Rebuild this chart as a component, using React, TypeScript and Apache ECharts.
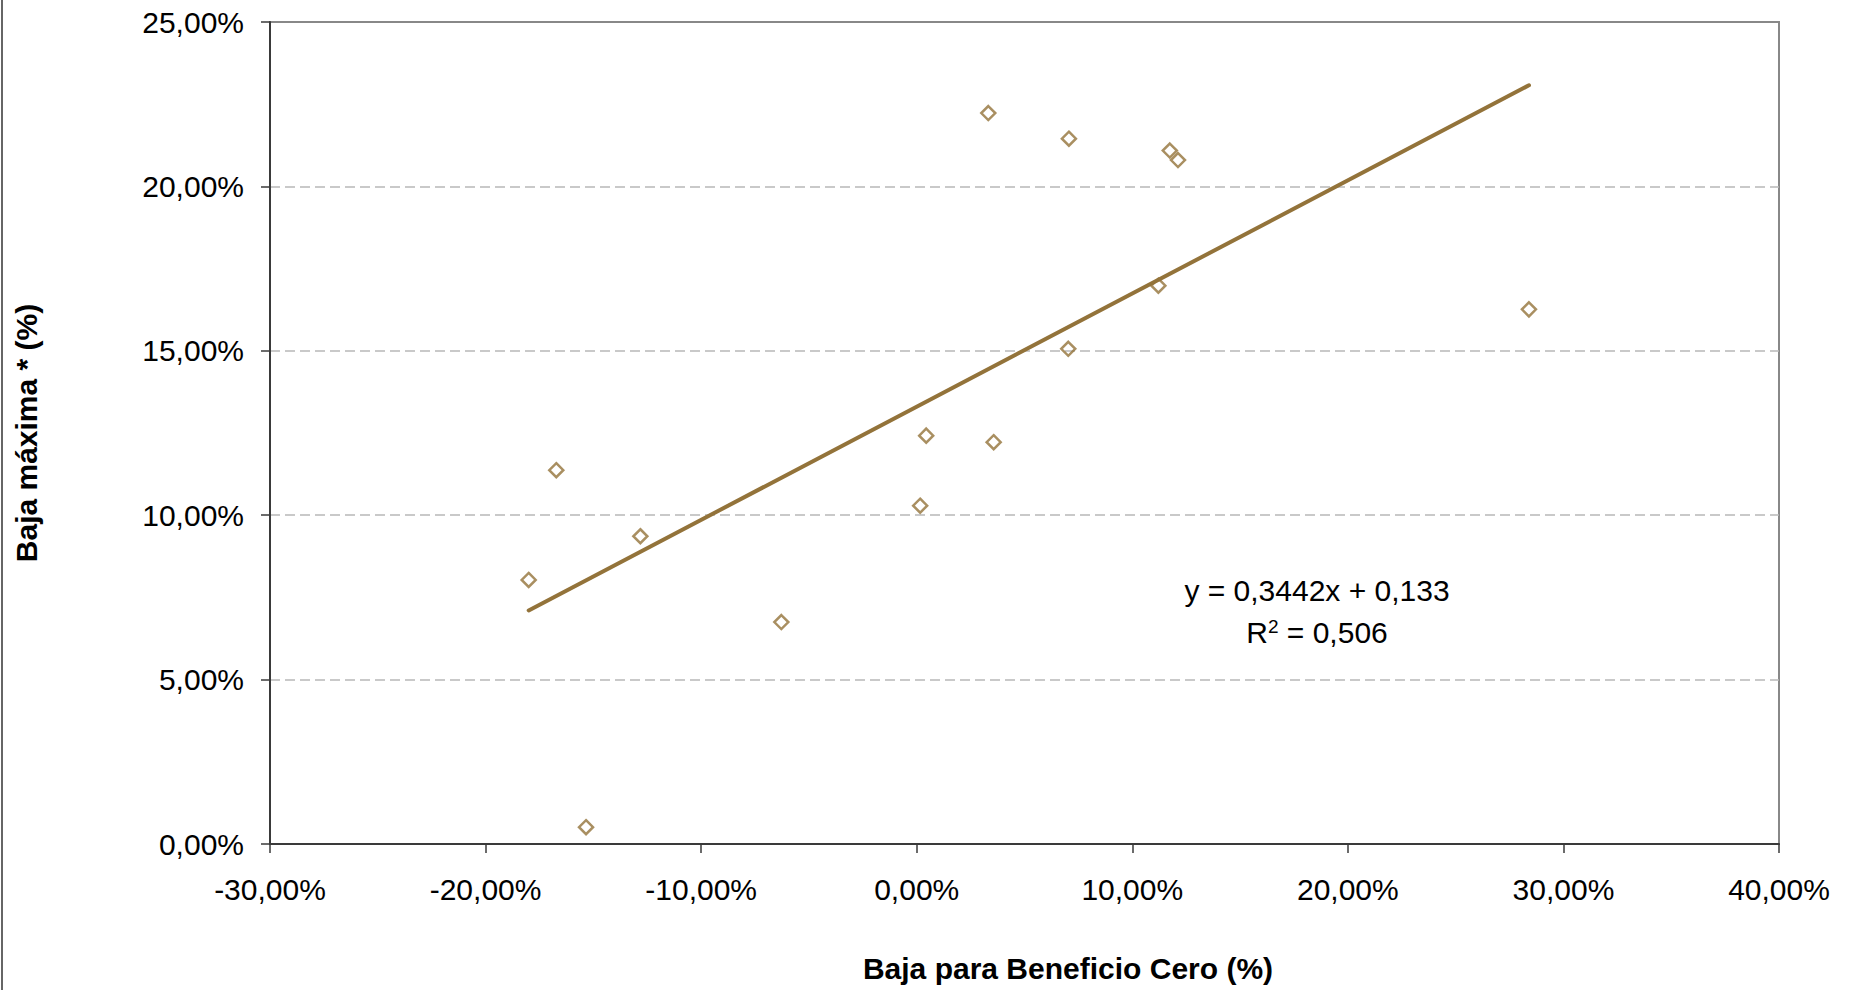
import React, { useEffect, useRef } from "react";
import * as echarts from "echarts";

// Baja para Beneficio Cero (%)
const xValues = [-18.0, -16.72, -15.34, -12.82, -6.28, 0.16, 0.44, 3.32, 3.57, 7.06, 7.03, 11.21, 11.74, 12.12, 28.4];
// Baja máxima * (%)
const yValues = [8.03, 11.37, 0.51, 9.36, 6.75, 10.29, 12.42, 22.23, 12.22, 21.45, 15.06, 16.98, 21.09, 20.8, 16.26];

const xTicks = { min: -30, max: 40, interval: 10 };
const yTicks = { min: 0, max: 25, interval: 5 };

const trendSlope = 0.3442;
const trendIntercept = 0.133;
const rSquared = "0,506";
const equationText = "y = 0,3442x + 0,133";

const xTitle = "Baja para Beneficio Cero (%)";
const yTitle = "Baja máxima * (%)";

const BROWN = "#93733A";
const FONT = "'Liberation Sans', Arial, sans-serif";

const fmt = (v: number) => v.toFixed(2).replace(".", ",") + "%";

export default function App() {
  const ref = useRef<HTMLDivElement>(null);
  useEffect(() => {
    if (!ref.current) return;
    const chart = echarts.init(ref.current, undefined, { renderer: "svg" });
    const points = xValues.map((x, i) => [x, yValues[i]]);
    const xMinData = Math.min(...xValues);
    const xMaxData = Math.max(...xValues);
    const trend = [xMinData, xMaxData].map((x) => [x, (trendSlope * (x / 100) + trendIntercept) * 100]);

    chart.setOption({
      animation: false,
      backgroundColor: "#ffffff",
      textStyle: { fontFamily: FONT },
      grid: {
        left: 270,
        top: 22,
        right: 70,
        bottom: 146,
        containLabel: false,
        outerBoundsMode: "none",
        show: true,
        borderColor: "#888888",
        borderWidth: 2,
        backgroundColor: "#ffffff",
      },
      xAxis: {
        type: "value",
        min: xTicks.min,
        max: xTicks.max,
        interval: xTicks.interval,
        axisLine: { show: true, onZero: false, lineStyle: { color: "#3a3a3a", width: 2 } },
        axisTick: { show: true, length: 9, lineStyle: { color: "#3a3a3a", width: 1.5 } },
        axisLabel: { formatter: fmt, fontSize: 30, color: "#000", fontFamily: FONT, margin: 30 },
        splitLine: { show: false },
      },
      yAxis: {
        type: "value",
        min: yTicks.min,
        max: yTicks.max,
        interval: yTicks.interval,
        axisLine: { show: true, onZero: false, lineStyle: { color: "#3a3a3a", width: 2 } },
        axisTick: { show: true, length: 9, lineStyle: { color: "#3a3a3a", width: 1.5 } },
        axisLabel: { formatter: fmt, fontSize: 30, color: "#000", fontFamily: FONT, margin: 26 },
        splitLine: {
          show: true,
          showMaxLine: false,
          showMinLine: false,
          lineStyle: { color: "#b8b8b8", width: 1.5, type: [10, 5] },
        },
      },
      series: [
        {
          type: "scatter",
          data: points,
          symbol: "diamond",
          symbolSize: 14,
          itemStyle: { color: "rgba(0,0,0,0)", borderColor: BROWN, borderWidth: 2.5 },
          z: 2,
        },
        {
          type: "line",
          data: trend,
          showSymbol: false,
          symbol: "none",
          lineStyle: { color: BROWN, width: 4, cap: "round" },
          z: 3,
        },
      ],
      graphic: [
        {
          type: "line",
          shape: { x1: 2, y1: 0, x2: 2, y2: 990 },
          style: { stroke: "#333", lineWidth: 1.5 },
        },
        {
          type: "text",
          x: 1068,
          y: 968,
          style: {
            text: xTitle,
            font: `bold 30px ${FONT}`,
            fill: "#000",
            textAlign: "center",
            textVerticalAlign: "middle",
          },
        },
        {
          type: "text",
          x: 26,
          y: 433,
          rotation: Math.PI / 2,
          style: {
            text: yTitle,
            font: `bold 30px ${FONT}`,
            fill: "#000",
            textAlign: "center",
            textVerticalAlign: "middle",
          },
        },
        {
          type: "text",
          x: 1317,
          y: 590,
          style: {
            text: equationText,
            font: `30px ${FONT}`,
            fill: "#000",
            textAlign: "center",
            textVerticalAlign: "middle",
          },
        },
        {
          type: "text",
          x: 1317,
          y: 632,
          style: {
            text: "{r|R}{s|2}{r| = " + rSquared + "}",
            textAlign: "center",
            textVerticalAlign: "middle",
            rich: {
              r: { fontSize: 30, fontFamily: FONT, fill: "#000", color: "#000", verticalAlign: "bottom" },
              s: { fontSize: 19, fontFamily: FONT, fill: "#000", color: "#000", verticalAlign: "top", padding: [0, 0, 12, 0] },
            },
          },
        },
      ],
    });
    return () => chart.dispose();
  }, []);
  return (
    <div
      ref={ref}
      style={{ position: "fixed", left: 0, top: 0, width: 1849, height: 990, background: "#fff" }}
    />
  );
}
